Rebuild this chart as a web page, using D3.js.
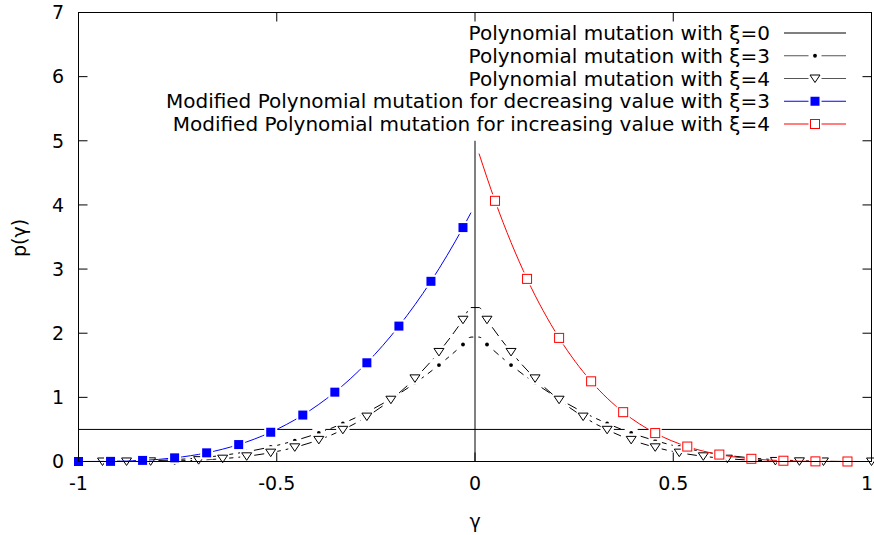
<!DOCTYPE html>
<html>
<head>
<meta charset="utf-8">
<script src="https://cdn.jsdelivr.net/npm/d3@7"></script>
<style>
  html, body { margin: 0; padding: 0; background: #fff; }
  svg { display: block; }
  text { font-family: "DejaVu Sans", sans-serif; font-size: 19px; fill: #000; }
  text.leg { font-size: 20px; }
</style>
</head>
<body>
<svg id="chart" width="874" height="535"></svg>
<script>
// ---------------- data ----------------
const xTicks = [-1, -0.5, 0, 0.5, 1];
const xTickLabels = ["-1", "-0.5", "0", "0.5", "1"];
const yTicks = [0, 1, 2, 3, 4, 5, 6, 7];
const yTickLabels = ["0", "1", "2", "3", "4", "5", "6", "7"];

const seriesNames = [
  "Polynomial mutation with ξ=0",
  "Polynomial mutation with ξ=3",
  "Polynomial mutation with ξ=4",
  "Modified Polynomial mutation for decreasing value with ξ=3",
  "Modified Polynomial mutation for increasing value with ξ=4"
];

// ξ=0 : uniform line plus vertical segment at 0
const xi0X = [-1, 1];
const xi0Y = [0.5, 0.5];
const xi0VertX = [0, 0];
const xi0VertY = [0, 5];

// ξ=3 and ξ=4 polynomial mutation (shared x positions)
const polyX = [-1.0, -0.9394, -0.8788, -0.8182, -0.7576, -0.6970, -0.6364, -0.5758, -0.5152,
  -0.4545, -0.3939, -0.3333, -0.2727, -0.2121, -0.1515, -0.0909, -0.0303, -0.0101,
  0.0101, 0.0303, 0.0909, 0.1515, 0.2121, 0.2727, 0.3333, 0.3939, 0.4545,
  0.5152, 0.5758, 0.6364, 0.6970, 0.7576, 0.8182, 0.8788, 0.9394, 1.0];
const xi3Y = [0, 0.0004, 0.0036, 0.012, 0.0285, 0.056, 0.096, 0.153, 0.228,
  0.325, 0.445, 0.593, 0.769, 0.978, 1.222, 1.503, 1.824, 1.94,
  1.94, 1.824, 1.503, 1.222, 0.978, 0.769, 0.593, 0.445, 0.325,
  0.228, 0.153, 0.096, 0.056, 0.0285, 0.012, 0.0036, 0.0004, 0];
const xi4Y = [0, 0, 0.0005, 0.0027, 0.0086, 0.021, 0.044, 0.081, 0.138,
  0.221, 0.337, 0.494, 0.700, 0.963, 1.296, 1.708, 2.210, 2.40,
  2.40, 2.210, 1.708, 1.296, 0.963, 0.700, 0.494, 0.337, 0.221,
  0.138, 0.081, 0.044, 0.021, 0.0086, 0.0027, 0.0005, 0, 0];

// modified, decreasing, ξ=3 (blue)
const blueX = [-1, -0.9192, -0.8384, -0.7576, -0.6768, -0.5960, -0.5152, -0.4343,
  -0.3535, -0.2727, -0.1919, -0.1111, -0.0303, -0.0101];
const blueY = [0, 0.002, 0.017, 0.057, 0.135, 0.264, 0.456, 0.724,
  1.081, 1.539, 2.111, 2.809, 3.647, 3.880];

// modified, increasing, ξ=4 (red)
const redX = [0.0101, 0.0505, 0.1313, 0.2121, 0.2929, 0.3737, 0.4545, 0.5354,
  0.6162, 0.6970, 0.7778, 0.8586, 0.9394, 1.0];
const redY = [4.801, 4.064, 2.847, 1.927, 1.25, 0.769, 0.443, 0.233,
  0.108, 0.042, 0.012, 0.002, 0.0001, 0];

// ---------------- chart ----------------
const svg = d3.select("#chart");
const L = 78.5, R = 871.5, T = 12.5, B = 461.5;
const x = d3.scaleLinear().domain([-1, 1]).range([L, R]);
const y = d3.scaleLinear().domain([0, 7]).range([B, T]);

const zip = (xs, ys) => xs.map((v, i) => ({ x: v, y: ys[i] }));
const line = d3.line().x(d => x(d.x)).y(d => y(d.y)).curve(d3.curveMonotoneX);
const straight = d3.line().x(d => x(d.x)).y(d => y(d.y));

const plot = svg.append("g");

// marker shapes
function drawMarker(g, type, cx, cy) {
  g.append("rect").attr("x", cx - 6.5).attr("y", cy - 6.5).attr("width", 13).attr("height", 13)
    .attr("fill", "#fff");
  if (type === "dot") {
    g.append("circle").attr("cx", cx).attr("cy", cy).attr("r", 1.9).attr("fill", "#000");
  } else if (type === "tri") {
    g.append("path").attr("d", `M${cx - 5},${cy - 3.5}L${cx + 5},${cy - 3.5}L${cx},${cy + 4}Z`)
      .attr("fill", "#fff").attr("stroke", "#000").attr("stroke-width", 1);
  } else if (type === "fsq") {
    g.append("rect").attr("x", cx - 4.5).attr("y", cy - 4.5).attr("width", 9).attr("height", 9)
      .attr("fill", "#0000ff");
  } else if (type === "osq") {
    g.append("rect").attr("x", cx - 4.5).attr("y", cy - 4.5).attr("width", 9).attr("height", 9)
      .attr("fill", "#fff").attr("stroke", "#ff0000").attr("stroke-width", 1);
  }
}

// ξ=0
plot.append("path").attr("d", straight(zip(xi0X, xi0Y))).attr("fill", "none")
  .attr("stroke", "#000").attr("stroke-width", 1);
plot.append("path").attr("d", straight(zip(xi0VertX, xi0VertY))).attr("fill", "none")
  .attr("stroke", "#000").attr("stroke-width", 1);

// ξ=3
const d3pts = zip(polyX, xi3Y);
plot.append("path").attr("d", line(d3pts)).attr("fill", "none")
  .attr("stroke", "#000").attr("stroke-width", 1).attr("stroke-dasharray", "11,5");
d3pts.filter(d => Math.abs(d.x) > 0.02).forEach(d => drawMarker(plot, "dot", x(d.x), y(d.y)));

// ξ=4
const d4pts = zip(polyX, xi4Y);
plot.append("path").attr("d", line(d4pts)).attr("fill", "none")
  .attr("stroke", "#000").attr("stroke-width", 1).attr("stroke-dasharray", "11,5");
d4pts.filter(d => Math.abs(d.x) > 0.02).forEach(d => drawMarker(plot, "tri", x(d.x), y(d.y)));

// blue
const bpts = zip(blueX, blueY);
plot.append("path").attr("d", line(bpts)).attr("fill", "none")
  .attr("stroke", "#0000ff").attr("stroke-width", 1);
bpts.slice(0, -1).forEach(d => drawMarker(plot, "fsq", x(d.x), y(d.y)));

// red
const rpts = zip(redX, redY);
plot.append("path").attr("d", line(rpts)).attr("fill", "none")
  .attr("stroke", "#ff0000").attr("stroke-width", 1);
rpts.slice(1, -1).forEach(d => drawMarker(plot, "osq", x(d.x), y(d.y)));

// border
svg.append("rect").attr("x", L).attr("y", T).attr("width", R - L).attr("height", B - T)
  .attr("fill", "none").attr("stroke", "#000").attr("stroke-width", 1);

// ticks (mirrored, inward)
const tk = 9;
const tg = svg.append("g").attr("stroke", "#000").attr("stroke-width", 1);
xTicks.forEach(v => {
  tg.append("line").attr("x1", x(v)).attr("x2", x(v)).attr("y1", B).attr("y2", B - tk);
  tg.append("line").attr("x1", x(v)).attr("x2", x(v)).attr("y1", T).attr("y2", T + tk);
});
yTicks.forEach(v => {
  tg.append("line").attr("x1", L).attr("x2", L + tk).attr("y1", y(v)).attr("y2", y(v));
  tg.append("line").attr("x1", R).attr("x2", R - tk).attr("y1", y(v)).attr("y2", y(v));
});

// tick labels
xTicks.forEach((v, i) => {
  const last = i === xTicks.length - 1;
  svg.append("text").attr("x", last ? 873 : x(v)).attr("y", 490)
    .attr("text-anchor", last ? "end" : "middle").text(xTickLabels[i]);
});
yTicks.forEach((v, i) => {
  svg.append("text").attr("x", 64).attr("y", y(v)).attr("dy", "0.36em").attr("text-anchor", "end")
    .text(yTickLabels[i]);
});

// axis labels
svg.append("text").attr("transform", "translate(26,238) rotate(-90)").attr("text-anchor", "middle")
  .text("p(γ)");
svg.append("text").attr("x", 475).attr("y", 528).attr("text-anchor", "middle").text("γ");

// legend
const leg = svg.append("g");
const legTypes = [null, "dot", "tri", "fsq", "osq"];
const legColors = ["#000", "#555", "#555", "#0000ff", "#ff0000"];
seriesNames.forEach((name, i) => {
  const cy = 33 + i * 22.75;
  leg.append("text").attr("class", "leg").attr("x", 770).attr("y", cy).attr("dy", "0.36em")
    .attr("text-anchor", "end").text(name);
  leg.append("line").attr("x1", 784).attr("x2", 846).attr("y1", cy).attr("y2", cy)
    .attr("stroke", legColors[i]).attr("stroke-width", 1);
  if (legTypes[i]) drawMarker(leg, legTypes[i], 815, cy);
});
</script>
</body>
</html>
